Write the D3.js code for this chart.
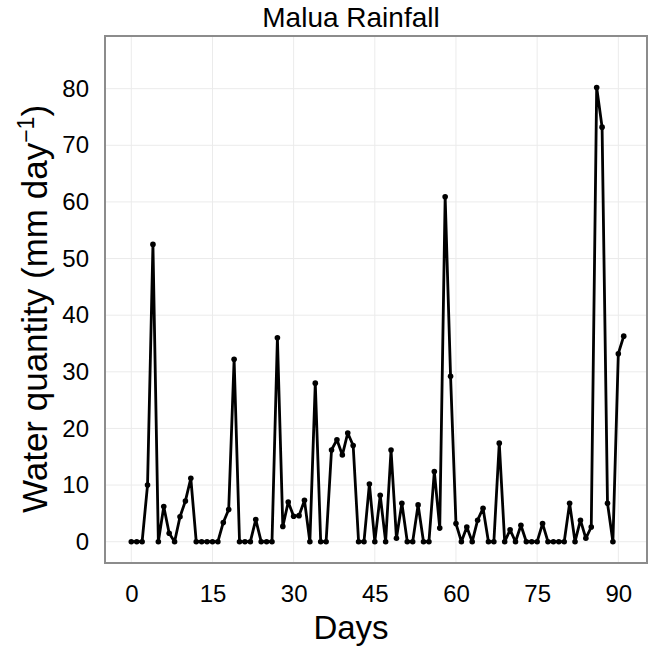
<!DOCTYPE html>
<html>
<head>
<meta charset="utf-8">
<script src="https://cdn.jsdelivr.net/npm/d3@7"></script>
<style>
  html, body { margin: 0; padding: 0; background: #fff; }
  svg { display: block; font-family: "Liberation Sans", Arial, sans-serif; }
</style>
</head>
<body>
<svg id="chart" width="655" height="652"></svg>
<script>
const days = d3.range(0, 92);
const rainfall = [
  0, 0, 0, 10, 52.5, 0, 6.2, 1.5, 0, 4.4,
  7.2, 11.2, 0, 0, 0, 0, 0, 3.4, 5.7, 32.2,
  0, 0, 0, 3.9, 0, 0, 0, 36, 2.7, 7,
  4.5, 4.6, 7.3, 0, 28, 0, 0, 16.2, 18, 15.3,
  19.2, 17, 0, 0, 10.2, 0, 8.2, 0, 16.2, 0.6,
  6.8, 0, 0, 6.5, 0, 0, 12.4, 2.4, 60.9, 29.2,
  3.2, 0, 2.6, 0, 3.8, 5.9, 0, 0, 17.4, 0,
  2.1, 0, 2.9, 0, 0, 0, 3.2, 0, 0, 0,
  0, 6.8, 0, 3.8, 0.6, 2.6, 80.2, 73.2, 6.8, 0,
  33.2, 36.3
];
const xTicks = [0, 15, 30, 45, 60, 75, 90];
const yTicks = [0, 10, 20, 30, 40, 50, 60, 70, 80];
const title = "Malua Rainfall";
const xTitle = "Days";

const data = days.map((d, i) => ({ day: d, value: rainfall[i] }));

const panel = { left: 105, top: 36, right: 647, bottom: 563 };
const svg = d3.select("#chart");

const x = d3.scaleLinear().domain([-4.86, 95.3]).range([panel.left, panel.right]);
const y = d3.scaleLinear().domain([-3.76, 89.3]).range([panel.bottom, panel.top]);

// gridlines
const grid = svg.append("g");
grid.selectAll("line.gx").data(xTicks).join("line")
  .attr("x1", d => x(d)).attr("x2", d => x(d))
  .attr("y1", panel.top).attr("y2", panel.bottom)
  .attr("stroke", "#ebebeb").attr("stroke-width", 1);
grid.selectAll("line.gy").data(yTicks).join("line")
  .attr("x1", panel.left).attr("x2", panel.right)
  .attr("y1", d => y(d)).attr("y2", d => y(d))
  .attr("stroke", "#ebebeb").attr("stroke-width", 1);

// axes (labels only)
const xAxis = svg.append("g")
  .attr("transform", `translate(0,${panel.bottom})`)
  .call(d3.axisBottom(x).tickValues(xTicks).tickSize(0).tickPadding(22));
xAxis.select(".domain").remove();
xAxis.selectAll("text").attr("font-size", 24).attr("fill", "#000")
  .attr("font-family", "Liberation Sans, Arial, sans-serif");

const yAxis = svg.append("g")
  .attr("transform", `translate(${panel.left},0)`)
  .call(d3.axisLeft(y).tickValues(yTicks).tickSize(0).tickPadding(16));
yAxis.select(".domain").remove();
yAxis.selectAll("text").attr("font-size", 24).attr("fill", "#000")
  .attr("font-family", "Liberation Sans, Arial, sans-serif");

// line and points
const line = d3.line().x(d => x(d.day)).y(d => y(d.value));
svg.append("path").datum(data)
  .attr("d", line).attr("fill", "none")
  .attr("stroke", "#000").attr("stroke-width", 2.8)
  .attr("stroke-linejoin", "round");
svg.append("g").selectAll("circle").data(data).join("circle")
  .attr("cx", d => x(d.day)).attr("cy", d => y(d.value))
  .attr("r", 2.8).attr("fill", "#000");

// panel border
svg.append("rect")
  .attr("x", panel.left).attr("y", panel.top)
  .attr("width", panel.right - panel.left).attr("height", panel.bottom - panel.top)
  .attr("fill", "none").attr("stroke", "#8c8c8c").attr("stroke-width", 2);

// titles
svg.append("text").attr("x", 351).attr("y", 27)
  .attr("text-anchor", "middle").attr("font-size", 28).attr("fill", "#000")
  .text(title);

svg.append("text").attr("x", 351).attr("y", 639)
  .attr("text-anchor", "middle").attr("font-size", 33).attr("fill", "#000")
  .text(xTitle);

const yt = svg.append("text")
  .attr("transform", `translate(47,309) rotate(-90)`)
  .attr("text-anchor", "middle").attr("font-size", 35).attr("fill", "#000");
yt.append("tspan").text("Water quantity (mm day");
yt.append("tspan").attr("dy", -13).attr("font-size", 23).text("\u22121");
yt.append("tspan").attr("dy", 13).text(")");
</script>
</body>
</html>
